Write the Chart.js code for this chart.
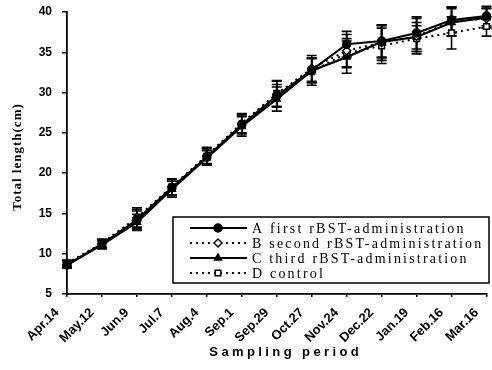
<!DOCTYPE html>
<html><head><meta charset="utf-8">
<script src="https://cdn.jsdelivr.net/npm/chart.js@4/dist/chart.umd.min.js"></script>
<style>html,body{margin:0;padding:0;background:#fff}#wrap{width:492px;height:370px}</style>
</head><body><div id="wrap"><canvas id="c" width="492" height="370"></canvas></div>
<script>
const categories = ['Apr.14','May.12','Jun.9','Jul.7','Aug.4','Sep.1','Sep.29','Oct.27','Nov.24','Dec.22','Jan.19','Feb.16','Mar.16'];
const seriesNames = ['A first rBST-administration','B second rBST-administration','C third rBST-administration','D control'];
const valuesA = [8.6, 11.2, 14.2, 18.2, 22.0, 26.0, 29.6, 32.8, 36.0, 36.4, 37.4, 39.0, 39.5];
const valuesB = [8.7, 11.3, 14.5, 18.3, 22.2, 26.2, 29.8, 33.0, 35.2, 36.2, 37.0, 38.8, 39.2];
const valuesC = [8.6, 11.1, 13.9, 18.0, 21.9, 25.8, 29.2, 32.7, 34.4, 36.3, 36.9, 38.7, 39.3];
const valuesD = [8.8, 11.3, 14.3, 18.3, 22.1, 26.1, 29.9, 32.6, 34.9, 35.8, 36.7, 37.4, 38.2];
const errA = [0.4, 0.5, 1.1, 1.0, 1.0, 1.1, 1.4, 1.5, 1.6, 2.0, 2.0, 1.6, 1.2];
const errB = [0.4, 0.5, 1.2, 1.0, 1.0, 1.2, 1.6, 1.6, 2.0, 2.2, 2.2, 1.8, 1.2];
const errC = [0.4, 0.5, 1.0, 1.0, 0.9, 1.2, 1.5, 1.5, 2.0, 2.0, 1.8, 1.7, 1.2];
const errD = [0.4, 0.5, 1.2, 1.0, 1.0, 1.2, 1.6, 1.7, 1.8, 2.2, 1.6, 2.0, 1.2];
const yMin = 5, yMax = 40, yStep = 5;
const xTitle = 'Sampling period';
const yTitle = 'Total length(cm)';

const errs = [errA, errB, errC, errD];

const errorBars = {
  id: 'errorBars',
  beforeDatasetsDraw(chart) {
    const ctx = chart.ctx, ys = chart.scales.y;
    ctx.save();
    ctx.strokeStyle = '#000';
    ctx.lineWidth = 1.6;
    chart.data.datasets.forEach((ds, di) => {
      const meta = chart.getDatasetMeta(di);
      meta.data.forEach((pt, i) => {
        const v = ds.data[i], e = errs[di][i];
        const y1 = ys.getPixelForValue(v + e), y2 = ys.getPixelForValue(v - e);
        ctx.beginPath();
        ctx.moveTo(pt.x, y1); ctx.lineTo(pt.x, y2);
        ctx.moveTo(pt.x - 5, y1); ctx.lineTo(pt.x + 5, y1);
        ctx.moveTo(pt.x - 5, y2); ctx.lineTo(pt.x + 5, y2);
        ctx.stroke();
      });
    });
    ctx.restore();
  }
};

const decor = {
  id: 'decor',
  afterDraw(chart) {
    const ctx = chart.ctx, ca = chart.chartArea;
    ctx.save();
    ctx.fillStyle = '#000';
    ctx.textAlign = 'center';
    ctx.textBaseline = 'middle';
    ctx.font = 'bold 13px "Liberation Sans"';
    ctx.letterSpacing = '3.4px';
    ctx.fillText(xTitle, (ca.left + ca.right) / 2 + 9, 352);
    ctx.translate(18, 157);
    ctx.rotate(-Math.PI / 2);
    ctx.font = 'bold 13px "Liberation Serif"';
    ctx.letterSpacing = '1px';
    ctx.fillText(yTitle, 0, 0);
    ctx.restore();

    // legend
    ctx.save();
    const bx = 173, by = 217, bw = 316, bh = 66;
    ctx.fillStyle = '#fff';
    ctx.fillRect(bx, by, bw, bh);
    ctx.strokeStyle = '#000';
    ctx.lineWidth = 1.5;
    ctx.strokeRect(bx, by, bw, bh);
    chart.data.datasets.forEach((ds, i) => {
      const ry = by + 11 + i * 15;
      ctx.strokeStyle = '#000';
      ctx.lineWidth = ds.borderWidth;
      ctx.setLineDash(ds.borderDash || []);
      ctx.beginPath(); ctx.moveTo(190, ry); ctx.lineTo(247, ry); ctx.stroke();
      ctx.setLineDash([]);
      ctx.lineWidth = 1.5;
      ctx.fillStyle = ds.pointBackgroundColor;
      ctx.strokeStyle = '#000';
      Chart.helpers.drawPoint(ctx, {pointStyle: ds.pointStyle, radius: ds.pointRadius, borderWidth: 1.5, rotation: 0}, 218, ry);
      ctx.fillStyle = '#000';
      ctx.font = '14px "Liberation Serif"';
      ctx.letterSpacing = '2.2px';
      ctx.textAlign = 'left';
      ctx.textBaseline = 'middle';
      ctx.fillText(seriesNames[i], 252, ry + 1);
      ctx.letterSpacing = '0px';
    });
    ctx.restore();
  }
};

function mk(label, data, solid, style, fill) {
  return {
    label, data,
    borderColor: '#000',
    borderWidth: solid ? 2.2 : 2,
    borderDash: solid ? [] : [2, 4],
    pointStyle: style,
    pointRadius: 4,
    pointBackgroundColor: fill,
    pointBorderColor: '#000',
    pointBorderWidth: 1.5,
    fill: false,
    tension: 0,
    clip: false
  };
}

new Chart(document.getElementById('c'), {
  type: 'line',
  data: {
    labels: categories,
    datasets: [
      mk(seriesNames[0], valuesA, true, 'circle', '#000'),
      mk(seriesNames[1], valuesB, false, 'rectRot', '#fff'),
      mk(seriesNames[2], valuesC, true, 'triangle', '#000'),
      mk(seriesNames[3], valuesD, false, 'rect', '#fff')
    ]
  },
  options: {
    responsive: false,
    animation: false,
    layout: {padding: {top: 12, right: 4, left: 0, bottom: 0}},
    plugins: {legend: {display: false}, tooltip: {enabled: false}},
    scales: {
      x: {
        offset: false,
        border: {color: '#000', width: 1.8},
        grid: {display: true, drawOnChartArea: false, color: '#000', tickLength: 3, lineWidth: 1.5},
        ticks: {color: '#000', minRotation: 45, maxRotation: 45, autoSkip: false, padding: 8, labelOffset: -10,
                font: {family: '"Liberation Sans"', size: 13, weight: 'bold'}},
        afterFit(s) { s.height = 76; s.paddingTop = 0; s.paddingBottom = 0; s.paddingLeft = 0; s.paddingRight = 0; }
      },
      y: {
        min: yMin, max: yMax,
        border: {color: '#000', width: 1.8},
        grid: {display: true, drawOnChartArea: false, color: '#000', tickLength: 5, lineWidth: 1.5},
        ticks: {stepSize: yStep, color: '#000', padding: 10,
                font: {family: '"Liberation Sans"', size: 12, weight: 'bold'}},
        afterFit(s) { s.width = 67; s.paddingTop = 0; s.paddingBottom = 0; }
      }
    }
  },
  plugins: [errorBars, decor]
});
</script>
</body></html>
